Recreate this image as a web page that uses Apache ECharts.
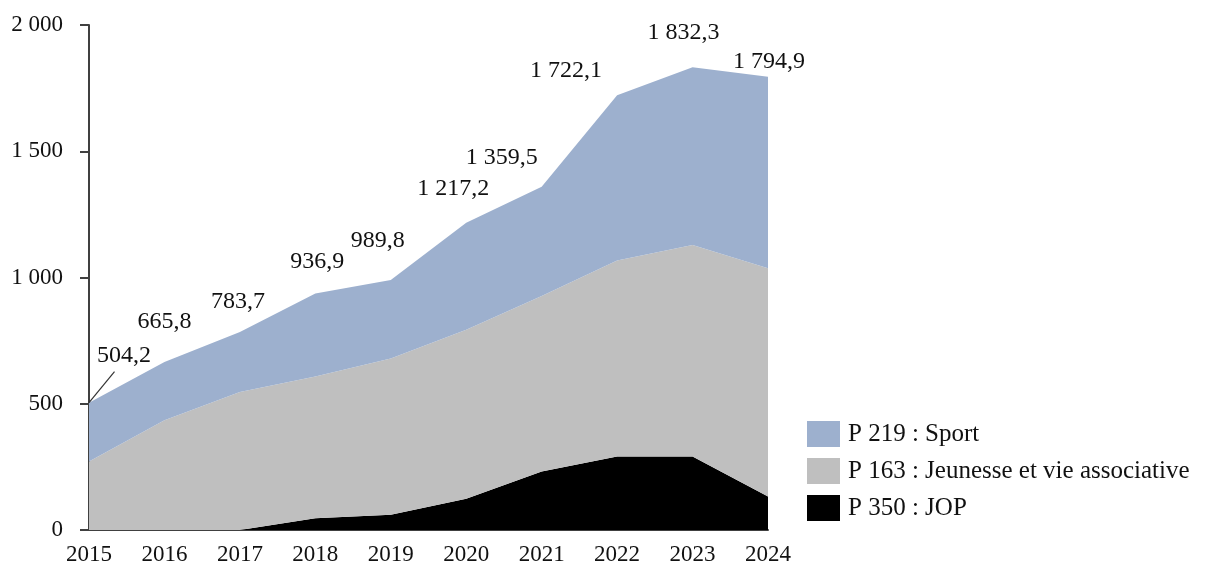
<!DOCTYPE html>
<html>
<head>
<meta charset="utf-8">
<script src="https://cdn.jsdelivr.net/npm/echarts@6/dist/echarts.min.js"></script>
<style>
html,body{margin:0;padding:0;background:#fff;}
#chart{width:1207px;height:566px;}
</style>
</head>
<body>
<div id="chart"></div>
<script>
// ---- data ----
var years = ['2015','2016','2017','2018','2019','2020','2021','2022','2023','2024'];
var jop = [0, 0, 0, 47, 60, 124, 232, 291, 291, 133];
var jeunesse = [271, 435, 547, 561, 619, 669, 695, 776, 838, 904];
var sport = [233.2, 230.8, 236.7, 328.9, 310.8, 424.2, 432.5, 655.1, 703.3, 757.9];
var totals = [504.2, 665.8, 783.7, 936.9, 989.8, 1217.2, 1359.5, 1722.1, 1832.3, 1794.9];
var yTickLabels = ['0', '500', '1 000', '1 500', '2 000'];
var seriesNames = ['P 350 : JOP', 'P 163 : Jeunesse et vie associative', 'P 219 : Sport'];

// label displacements (label centre relative to point)
var labelShift = [[35,-47],[0,-40],[-2,-30],[2,-32],[-13,-39],[-13,-34],[-40,-29],[-51,-24],[-9,-35],[1,-15]];
// leader line from the first total point towards its label (pixel offset)
var leaderShift = [25.5, -31];

function fmtFr(v) {
  var parts = v.toFixed(1).split('.');
  var intPart = parts[0].replace(/\B(?=(\d{3})+(?!\d))/g, ' ');
  return intPart + ',' + parts[1];
}

var FONT = 'Liberation Serif';
var colors = ['#000000', '#BFBFBF', '#9DB0CE'];

function areaSeries(name, data, color) {
  return {
    name: name,
    type: 'line',
    stack: 'total',
    data: data,
    symbol: 'none',
    lineStyle: { width: 0 },
    itemStyle: { color: color },
    areaStyle: { color: color, opacity: 1 },
    emphasis: { disabled: true },
    silent: true
  };
}

var chart = echarts.init(document.getElementById('chart'));
chart.setOption({
  animation: false,
  backgroundColor: '#ffffff',
  grid: { left: 89, right: 439, top: 25, bottom: 34, containLabel: false },
  legend: {
    data: [seriesNames[2], seriesNames[1], seriesNames[0]],
    orient: 'vertical',
    left: 802,
    top: 416,
    icon: 'rect',
    itemWidth: 33,
    itemHeight: 26,
    itemGap: 11,
    textStyle: { fontFamily: FONT, fontSize: 25, color: '#111', padding: [0, 0, 0, 3] },
    selectedMode: false
  },
  xAxis: {
    type: 'category',
    data: years,
    boundaryGap: false,
    axisLine: { lineStyle: { color: '#404040', width: 2 } },
    axisTick: { show: false },
    axisLabel: { fontFamily: FONT, fontSize: 23, color: '#111', margin: 13, interval: 0 },
    splitLine: { show: false }
  },
  yAxis: {
    type: 'value',
    min: 0, max: 2000, interval: 500,
    axisLine: { show: true, lineStyle: { color: '#404040', width: 2 } },
    axisTick: { show: true, length: 9, lineStyle: { color: '#404040', width: 2 } },
    axisLabel: {
      fontFamily: FONT, fontSize: 23, color: '#111', margin: 26,
      formatter: function (v) { return yTickLabels[Math.round(v / 500)]; }
    },
    splitLine: { show: false }
  },
  series: [
    areaSeries(seriesNames[0], jop, colors[0]),
    areaSeries(seriesNames[1], jeunesse, colors[1]),
    areaSeries(seriesNames[2], sport, colors[2]),
    {
      name: 'Total',
      type: 'line',
      data: totals,
      symbol: 'circle',
      symbolSize: 1,
      showSymbol: true,
      itemStyle: { color: 'rgba(0,0,0,0)' },
      lineStyle: { opacity: 0, width: 0 },
      z: 10,
      silent: true,
      label: {
        show: true,
        position: 'inside',
        fontFamily: FONT,
        fontSize: 24,
        color: '#111',
        formatter: function (p) { return fmtFr(p.value); }
      },
      labelLayout: function (p) {
        var s = labelShift[p.dataIndex];
        return { dx: s[0], dy: s[1] };
      }
    }
  ]
});

// leader line for the first label, anchored through the chart's own scales
var anchor = chart.convertToPixel({ gridIndex: 0 }, [0, totals[0]]);
chart.setOption({
  graphic: [{
    type: 'line',
    silent: true,
    z: 20,
    shape: {
      x1: anchor[0], y1: anchor[1],
      x2: anchor[0] + leaderShift[0], y2: anchor[1] + leaderShift[1]
    },
    style: { stroke: '#333', lineWidth: 1.2 }
  }]
});
</script>
</body>
</html>
